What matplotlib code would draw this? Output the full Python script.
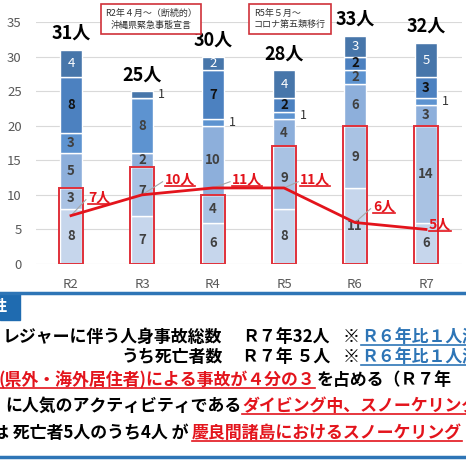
import matplotlib
matplotlib.use('Agg')
import matplotlib.pyplot as plt
from matplotlib.lines import Line2D
from matplotlib.patches import Rectangle
import numpy as np

plt.rcParams['font.family'] = ['Noto Sans CJK JP', 'DejaVu Sans']

years = ['R2', 'R3', 'R4', 'R5', 'R6', 'R7']
# 積み上げ（下から順）
seg_a = [8, 7, 6, 8, 11, 6]
seg_b = [3, 7, 4, 9, 9, 14]
seg_c = [5, 2, 10, 4, 6, 3]
seg_d = [3, 8, 1, 1, 2, 1]
seg_e = [8, 0, 7, 2, 2, 3]
seg_f = [4, 1, 2, 4, 3, 5]
deaths = [7, 10, 11, 11, 6, 5]

segments = [seg_a, seg_b, seg_c, seg_d, seg_e, seg_f]
seg_colors = ['#c6d6ec', '#a9c2e3', '#8dafdb', '#5d93d0', '#4c81c0', '#4776aa']
txt_colors = ['#404040', '#404040', '#404040', '#404040', '#111111', 'white']
txt_weight = ['bold', 'bold', 'bold', 'bold', 'bold', 'normal']

RED = '#e3141c'
BLUE = '#2e75b6'

W, H = 466, 465
fig = plt.figure(figsize=(W / 100, H / 100), dpi=100)
renderer = fig.canvas.get_renderer()

ax = fig.add_axes([35.5 / W, 1 - 264 / H, 426 / W, 242 / H])
x = np.arange(len(years))
bw = 0.31

bottom = np.zeros(len(years))
for vals, c, tc, tw in zip(segments, seg_colors, txt_colors, txt_weight):
    vals = np.array(vals)
    ax.bar(x, vals, bw, bottom=bottom, color=c, edgecolor='white', linewidth=1, zorder=2)
    for i, v in enumerate(vals):
        if v == 0:
            continue
        if v == 1:
            ax.text(x[i] + 0.27, bottom[i] + 0.5, '1', ha='center', va='center',
                    fontsize=9, color='#333333', zorder=4)
        else:
            ax.text(x[i], bottom[i] + v / 2, str(v), ha='center', va='center',
                    fontsize=9.5, color=tc, fontweight=tw, zorder=4)
    bottom = bottom + vals

totals = bottom
for i, t in enumerate(totals):
    ax.annotate(f'{int(t)}人', (x[i], t), xytext=(0, 5), textcoords='offset points',
                ha='center', va='bottom', fontsize=13, fontweight='bold', color='black')

# 県外・海外の枠
visitors = np.array(seg_a) + np.array(seg_b)
for i, v in enumerate(visitors):
    ax.add_patch(Rectangle((x[i] - 0.17, 0), 0.34, v, fill=False, edgecolor='#e0303a',
                           linewidth=1.4, zorder=3))

# 死亡者数の折れ線
ax.plot(x, deaths, color=RED, linewidth=2, zorder=5)

lab_dx = [0.24, 0.32, 0.27, 0.23, 0.25, 0.04]
lab_y = [9.6, 12.2, 12.2, 12.2, 8.3, 5.7]
lab_texts = []
for i, d in enumerate(deaths):
    lx = x[i] + lab_dx[i]
    if i < 5:
        ax.plot([x[i], lx - 0.03], [d, lab_y[i] - 0.3], color='#a6a6a6', lw=0.8, zorder=4)
    t = ax.text(lx, lab_y[i], f'{d}人', ha='left', va='center', fontsize=10,
                fontweight='bold', color=RED, zorder=6)
    lab_texts.append(t)

ax.set_xlim(-0.5, 5.5)
ax.set_ylim(0, 35)
ax.set_yticks(range(0, 36, 5))
ax.set_xticks(x)
ax.set_xticklabels(years)
ax.grid(axis='y', color='#d9d9d9', linewidth=0.8, zorder=0)
ax.set_axisbelow(True)
for s in ax.spines.values():
    s.set_visible(False)
ax.tick_params(axis='y', length=0, pad=10, labelsize=9.5, labelcolor='#595959')
ax.tick_params(axis='x', length=0, pad=10, labelsize=9.5, labelcolor='#595959')

# 注釈ボックス
ax.text(151 / W, 1 - 19 / H, 'R2年４月～（断続的）\n沖縄県緊急事態宣言', transform=fig.transFigure,
        ha='center', va='center', fontsize=6.5, color='#333333', linespacing=1.4,
        bbox=dict(boxstyle='square,pad=0.5', fc='white', ec='#d0313a', lw=1.2), zorder=10)
ax.text(254 / W, 1 - 19 / H, 'R5年５月～\nコロナ第五類移行', transform=fig.transFigure,
        ha='left', va='center', fontsize=6.5, color='#333333', linespacing=1.4,
        bbox=dict(boxstyle='square,pad=0.5', fc='white', ec='#d0313a', lw=1.2), zorder=10)


def underline(t, color):
    bb = t.get_window_extent(renderer)
    fig.add_artist(Line2D([bb.x0 / W, bb.x1 / W], [(bb.y0 + 1) / H] * 2, color=color, lw=1.2))


for t in lab_texts:
    underline(t, RED)


def put(xp, yp, s, color='black', under=False, ha='left', size=12.2):
    t = fig.text(xp / W, 1 - yp / H, s, color=color, fontsize=size, fontweight='bold',
                 ha=ha, va='center')
    if under:
        underline(t, color)
    return t.get_window_extent(renderer).x1


# 下部の説明欄
fig.add_artist(Line2D([0, 1], [1 - 293 / H] * 2, color=BLUE, lw=2.5))
fig.add_artist(Line2D([0, 1], [1 - 457 / H] * 2, color=BLUE, lw=2.5))
fig.add_artist(Rectangle((0, 1 - 320 / H), 20 / W, 27 / H, color='#1f6bb0',
                         transform=fig.transFigure))
fig.text(7 / W, 1 - 306 / H, '性', color='white', fontsize=11, fontweight='bold',
         ha='right', va='center')

put(3, 337, 'レジャーに伴う人身事故総数')
put(242, 337, 'Ｒ７年32人')
xe = put(343, 337, '※')
put(xe + 1, 337, 'Ｒ６年比１人減', color=BLUE, under=True)

put(223, 357, 'うち死亡者数', ha='right')
put(242, 357, 'Ｒ７年 ５人')
xe = put(343, 357, '※')
put(xe + 1, 357, 'Ｒ６年比１人減', color=BLUE, under=True)

xe = put(-2, 380, '(県外・海外居住者)による事故が４分の３', color=RED, under=True)
put(xe + 2, 380, 'を占める（Ｒ７年')

xe = put(5, 406, 'に人気のアクティビティである')
put(xe + 1, 406, 'ダイビング中、スノーケリング', color=RED, under=True)

xe = put(-8, 433, 'は 死亡者5人のうち4人 が')
put(xe + 3, 433, '慶良間諸島におけるスノーケリング', color=RED, under=True)

fig.savefig('out.png', dpi=100)
